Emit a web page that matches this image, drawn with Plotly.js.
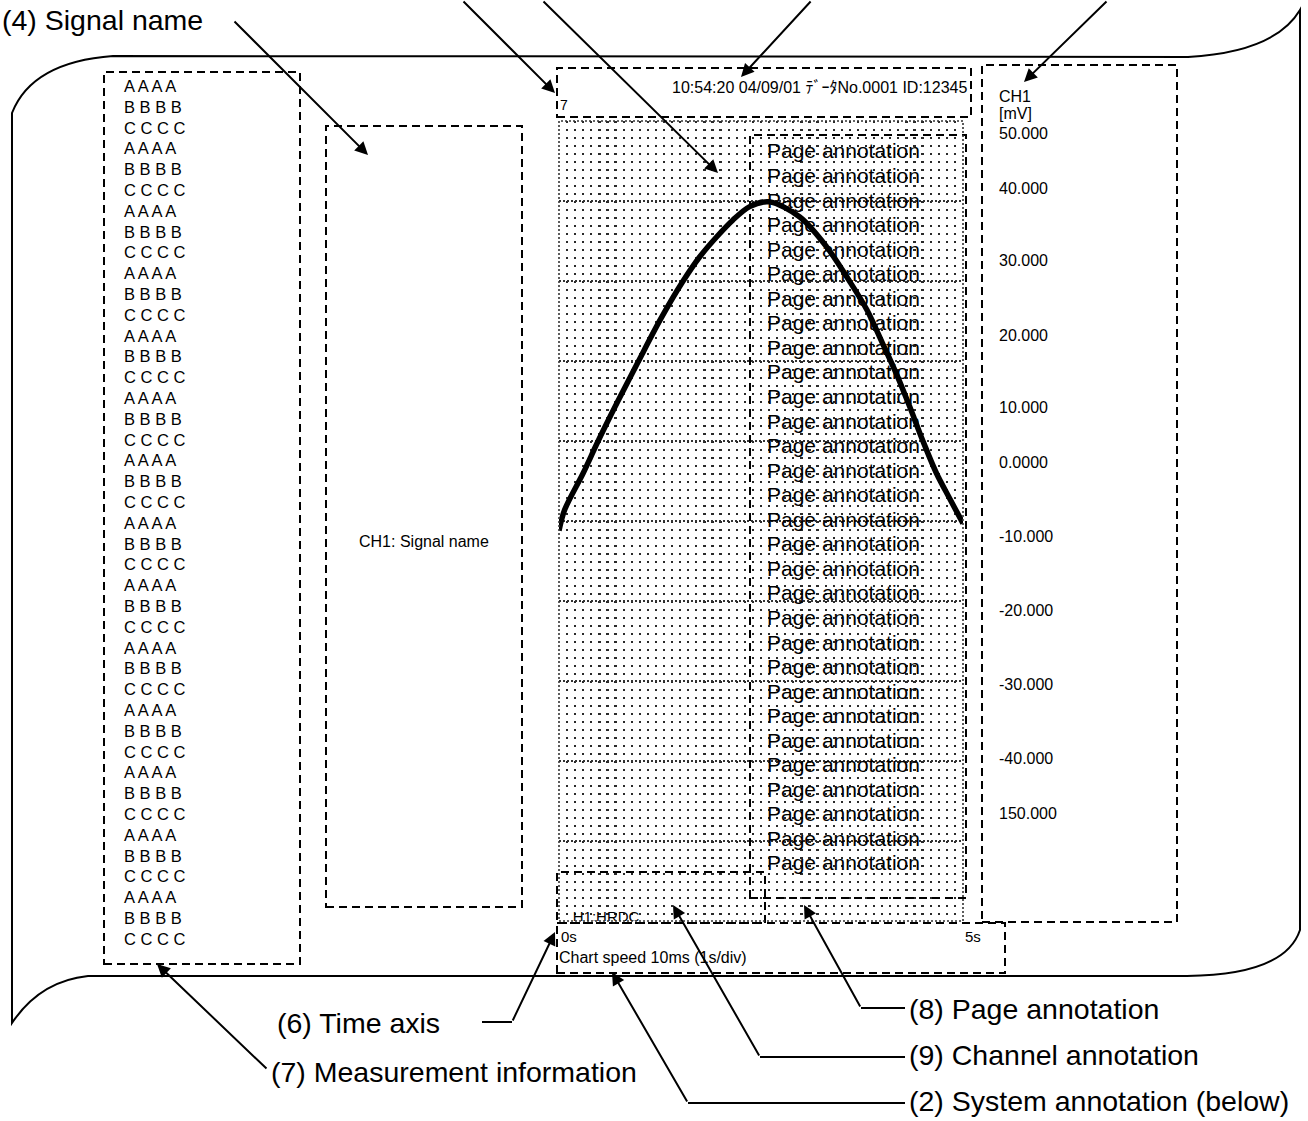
<!DOCTYPE html>
<html>
<head>
<meta charset="utf-8">
<script src="https://cdn.plot.ly/plotly-3.0.1.min.js"></script>
<style>html,body{margin:0;padding:0;background:#fff;}#chart{width:1308px;height:1121px;}</style>
</head>
<body>
<div id="chart"></div>
<script>
// ---------- data ----------
const timeS  = [0.0, 0.07, 0.30, 0.48, 0.72, 0.98, 1.25, 1.53, 1.74, 1.95, 2.15, 2.36, 2.60, 2.98, 3.31, 3.60, 3.81, 4.00, 4.18, 4.34, 4.50, 4.67, 4.83, 5.0];
const ch1mV  = [-1.2, 1.4, 6.0, 9.9, 14.8, 19.9, 25.1, 29.9, 33.0, 35.5, 37.6, 39.3, 39.9, 38.0, 34.3, 29.9, 26.4, 22.3, 18.3, 14.3, 10.1, 6.0, 2.9, -0.3];
const timeTickVals = [0, 5];
const timeTickText = ['0s', '5s'];
const scaleLabels = ['CH1', '[mV]', '50.000', '40.000', '30.000', '20.000', '10.000', '0.0000', '-10.000', '-20.000', '-30.000', '-40.000', '150.000'];
const measGroup = ['A A A A', 'B B B B', 'C C C C'];
const measGroupCount = 14;
const pageAnnotationText = 'Page annotation';
const pageAnnotationCount = 30;
const headerText = '10:54:20 04/09/01 ﾃﾞｰﾀNo.0001 ID:12345';
const headerMark = '7';
const signalNameText = 'CH1: Signal name';
const channelAnnotationText = 'H1:HRDC';
const systemAnnotationText = 'Chart speed 10ms (1s/div)';
const calloutLabels = ['(4) Signal name', '(6) Time axis', '(7) Measurement information', '(8) Page annotation', '(9) Channel annotation', '(2) System annotation (below)'];

// ---------- layout helpers ----------
const W = 1308, H = 1121;
const X = px => px / W;
const Y = py => 1 - py / H;
const FONT = 'Arial, "Liberation Sans", "Noto Sans CJK JP", sans-serif';
const P = (x, y) => X(x).toFixed(5) + ',' + Y(y).toFixed(5);

const shapes = [];
const annotations = [];

function rect(x0, y0, x1, y1, dash, width, color) {
  shapes.push({type: 'rect', xref: 'paper', yref: 'paper', x0: X(x0), x1: X(x1), y0: Y(y1), y1: Y(y0),
    line: {color: color || 'black', width: width || 2, dash: dash}, fillcolor: 'rgba(0,0,0,0)', layer: 'above'});
}
function seg(x0, y0, x1, y1) {
  shapes.push({type: 'line', xref: 'paper', yref: 'paper', x0: X(x0), x1: X(x1), y0: Y(y0), y1: Y(y1),
    line: {color: 'black', width: 2}, layer: 'above'});
}
function arrow(tx, ty, hx, hy) {
  annotations.push({xref: 'paper', yref: 'paper', x: X(hx), y: Y(hy), ax: tx - hx, ay: ty - hy,
    axref: 'pixel', ayref: 'pixel', text: '', showarrow: true, arrowhead: 2, arrowsize: 1.3,
    arrowwidth: 2, arrowcolor: 'black', standoff: 0});
}
function label(text, x, y, size, anchor) {
  annotations.push({xref: 'paper', yref: 'paper', x: X(x), y: Y(y), text: text, showarrow: false,
    xanchor: anchor || 'left', yanchor: 'middle', font: {family: FONT, size: size, color: 'black'}, borderpad: 0});
}

// paper outline
const outline = 'M' + P(12, 1023) + ' L' + P(12, 113) + ' Q' + P(32, 62) + ' ' + P(113, 56) +
  ' L' + P(1188, 57) + ' Q' + P(1275, 52) + ' ' + P(1300, 10) +
  ' L' + P(1300, 930) + ' Q' + P(1285, 975) + ' ' + P(1187, 976) +
  ' L' + P(88, 976) + ' Q' + P(40, 981) + ' ' + P(12, 1023) + ' Z';
shapes.push({type: 'path', xref: 'paper', yref: 'paper', path: outline, line: {color: 'black', width: 2}, layer: 'below'});

// dashed boxes
const DASH = '8px,5px';
rect(104, 72, 300, 964, DASH);     // measurement information
rect(326, 126, 522, 907, DASH);    // signal name
rect(557, 68, 971, 117, DASH);     // header / system annotation above
rect(982, 65, 1177, 922, DASH);    // scale
rect(750, 135, 966, 898, DASH);    // page annotation
rect(557, 872, 765, 923, DASH);    // channel annotation
rect(557, 923, 1005, 973, DASH);   // time axis / system annotation below
rect(559, 121, 963, 921, '2px,2px', 1.6, '#333'); // plot border (dotted)

// leader lines & arrows
arrow(233, 20, 368, 155);
arrow(462, 0, 555, 93);
arrow(542, 0, 718, 173);
arrow(812, 0, 741, 77);
arrow(1108, 0, 1024, 82);
seg(482, 1022, 512, 1022); arrow(512, 1022, 555, 932);
arrow(268, 1070, 157, 964);
seg(861, 1008, 905, 1008); arrow(861, 1008, 804, 905);
seg(760, 1057, 905, 1057); arrow(760, 1057, 673, 905);
seg(688, 1103, 905, 1103); arrow(688, 1103, 612, 972);

// texts
const calloutPos = [[1, 20], [276, 1023], [270, 1072], [908, 1009], [908, 1055], [908, 1101]];
calloutLabels.forEach((t, i) => label(t, calloutPos[i][0], calloutPos[i][1], 28.5));

let row = 0;
for (let g = 0; g < measGroupCount; g++) {
  measGroup.forEach(t => { label(t, 123, 86 + row * 20.8, 16.5); row++; });
}
label(signalNameText, 424, 541, 16, 'center');
label(headerText, 968, 87, 16, 'right');
label(headerMark, 559, 105, 14);
const scaleY = [96, 114, 133, 188, 261, 335, 408, 463, 537, 610, 684, 758, 813];
scaleLabels.forEach((t, i) => label(t, 998, scaleY[i], 16));
for (let i = 0; i < pageAnnotationCount; i++) label(pageAnnotationText, 766, 151 + i * 24.55, 21);
label(systemAnnotationText, 558, 957, 16);

// ---------- traces ----------
const traces = [
  {type: 'scatter', mode: 'lines', x: timeS, y: ch1mV, line: {color: 'black', width: 5.5, shape: 'spline', smoothing: 0.9},
   hoverinfo: 'skip', cliponaxis: false},
  {type: 'scatter', mode: 'text', x: [0.17], y: [-49.6], text: [channelAnnotationText], textposition: 'middle right',
   textfont: {family: FONT, size: 15, color: 'black'}, cliponaxis: true, hoverinfo: 'skip'}
];

const layout = {
  width: W, height: H, margin: {l: 0, r: 0, t: 0, b: 0},
  paper_bgcolor: 'white', plot_bgcolor: 'rgba(0,0,0,0)', showlegend: false,
  font: {family: FONT, color: 'black'},
  xaxis: {domain: [X(559), X(963)], range: [0, 5], showgrid: true, dtick: 1, tick0: 0,
    gridcolor: '#333', gridwidth: 1.6, griddash: '2px,2px',
    minor: {dtick: 0.1, tick0: 0, showgrid: true, gridcolor: '#2a2a2a', gridwidth: 2.2, griddash: '2.2px,5.8px'},
    zeroline: false, showline: false, tickmode: 'array', tickvals: timeTickVals, ticktext: timeTickText,
    ticks: '', ticklabelposition: 'outside right', ticklabelstandoff: 5, ticklabelshift: 2,
    tickfont: {family: FONT, size: 15, color: 'black'}, fixedrange: true},
  yaxis: {domain: [Y(921), Y(121)], range: [-50, 50], showgrid: true, dtick: 10, tick0: 0,
    gridcolor: '#333', gridwidth: 1.6, griddash: '2px,2px',
    zeroline: false, showline: false, showticklabels: false, ticks: '', fixedrange: true},
  shapes: shapes,
  annotations: annotations
};

Plotly.newPlot('chart', traces, layout, {staticPlot: true, displayModeBar: false});
</script>
</body>
</html>
